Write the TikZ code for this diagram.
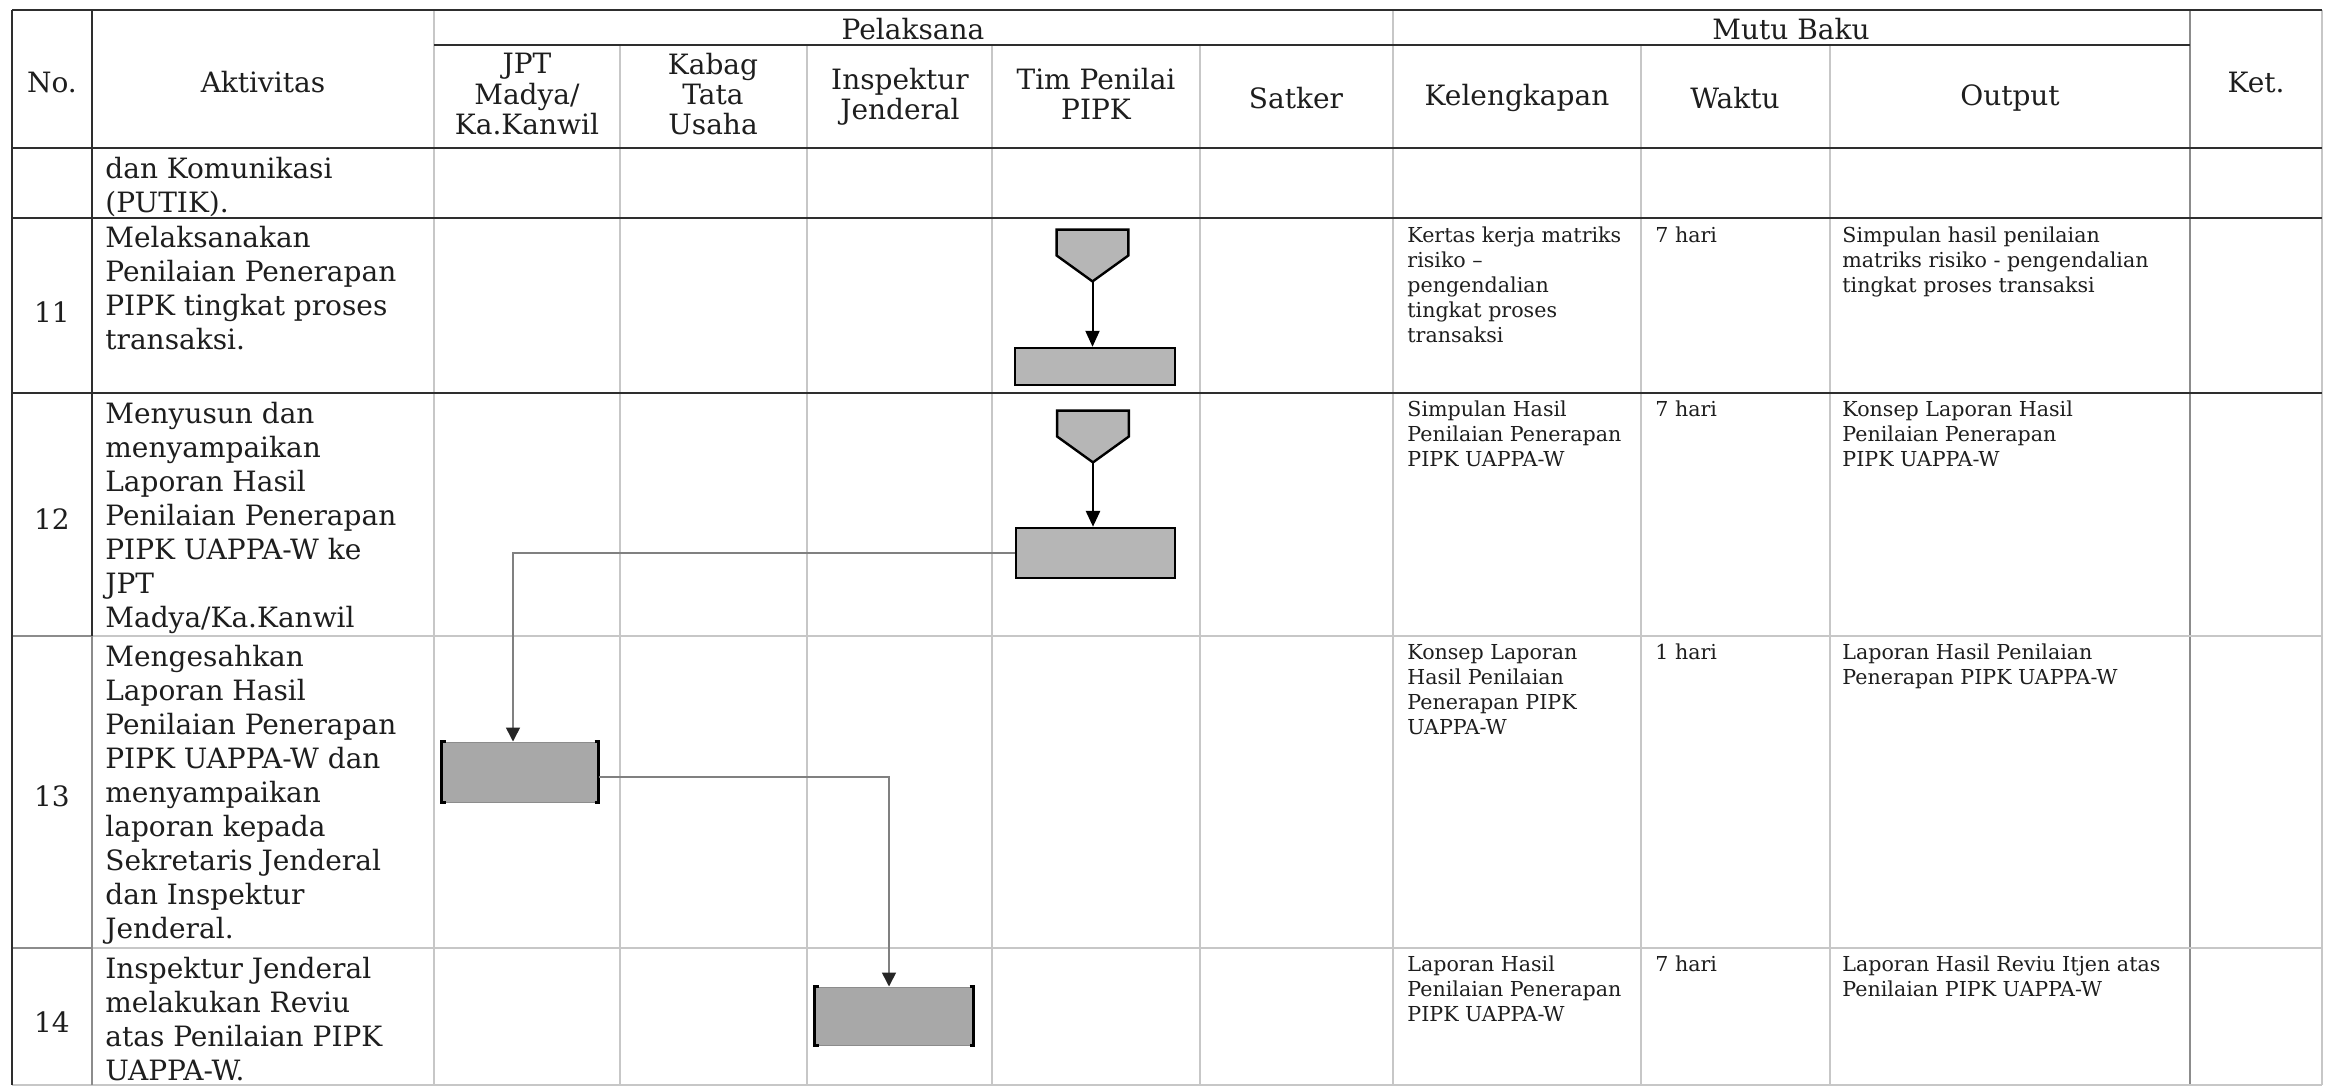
\documentclass[tikz,border=0pt]{standalone}
\usepackage{fontspec}
\setmainfont{DejaVu Serif}
\usetikzlibrary{arrows.meta}
\definecolor{boxgray}{HTML}{B6B6B6}
\definecolor{boxgrayb}{HTML}{A8A8A8}
\definecolor{inkc}{HTML}{1E1E1E}
\newcommand{\mlines}[1]{\begin{tabular}[t]{@{}l@{}}#1\end{tabular}}
\newcommand{\clines}[1]{\begin{tabular}{@{}c@{}}#1\end{tabular}}
\begin{document}
\begin{tikzpicture}[x=0.5pt,y=-0.5pt,
  darkline/.style={draw=black!82,line width=1.3pt},
  midline/.style={draw=black!45,line width=1pt},
  lightline/.style={draw=black!22,line width=1pt},
  body/.style={font=\fontsize{14}{17}\selectfont,text=inkc,inner sep=0pt,anchor=base west},
  small/.style={font=\fontsize{10.3}{12.5}\selectfont,text=inkc,inner sep=0pt,anchor=base west},
  head/.style={font=\fontsize{14}{15}\selectfont,text=inkc,inner sep=0pt,anchor=center},
  num/.style={font=\fontsize{14}{17}\selectfont,text=inkc,inner sep=0pt,anchor=center},
  pentbox/.style={minimum width=35.5pt,minimum height=25.5pt,inner sep=0pt},
  pentshape/.style={fill=boxgray,draw=black,line width=1.2pt,line join=miter},
  boxa/.style={fill=boxgray,draw=black,line width=1.2pt,inner sep=0pt},
  boxb/.style={fill=boxgrayb,draw=black!45,line width=0.5pt,inner sep=0pt},
  bracket/.style={draw=black,line width=1.3pt},
  flow/.style={draw=black,line width=1pt,-{Triangle[length=8pt,width=7pt]}},
  conn/.style={draw=black!50,line width=0.8pt,-{Triangle[length=7pt,width=7pt,color=black!85]}}
]
\useasboundingbox (0,0) rectangle (2326,1087);
\fill[white] (0,0) rectangle (2326,1087);

% ---------- light vertical grid lines ----------
\draw[lightline] (434,10) -- (434,1085);
\foreach \xx in {620,807,992,1200,1641,1830} {\draw[lightline] (\xx,45) -- (\xx,1085);}
\draw[lightline] (1393,10) -- (1393,1085);
\draw[lightline] (2322,10) -- (2322,1085);
\draw[midline] (2190,10) -- (2190,1085);
% ---------- light horizontal lines (lower rows) ----------
\draw[lightline] (12,636) -- (2322,636);
\draw[lightline] (12,948) -- (2322,948);
\draw[lightline] (12,1085) -- (2322,1085);
\draw[midline] (12,636) -- (92,636);
\draw[midline] (12,948) -- (92,948);
% ---------- dark lines ----------
\draw[darkline] (12,10) -- (2322,10);
\draw[darkline] (434,45) -- (2190,45);
\draw[darkline] (12,148) -- (2322,148);
\draw[darkline] (12,218) -- (2322,218);
\draw[darkline] (12,393) -- (2322,393);
\draw[darkline] (12,10) -- (12,1085);
\draw[darkline] (92,10) -- (92,636);
\draw[midline] (92,636) -- (92,1085);

% ---------- header ----------
\node[head] (hNo) at (52,82) {No.};
\node[head] (hAkt) at (263,82) {Aktivitas};
\node[head] (hPel) at (913,29) {Pelaksana};
\node[head] (hMutu) at (1791,29) {Mutu Baku};
\node[head] (hKet) at (2256,82) {Ket.};
\node[head] (hJPT) at (527,98) {\clines{JPT\\Madya/\\Ka.Kanwil}};
\node[head] (hKabag) at (713,98) {\clines{Kabag\\Tata\\Usaha}};
\node[head] (hInsp) at (900,98) {\clines{Inspektur\\Jenderal}};
\node[head] (hTim) at (1096,98) {\clines{Tim Penilai\\PIPK}};
\node[head] (hSat) at (1296,98) {Satker};
\node[head] (hKel) at (1517,98) {Kelengkapan};
\node[head] (hWak) at (1735,98) {Waktu};
\node[head] (hOut) at (2010,98) {Output};

% ---------- row 10 ----------
\node[body] (a10) at (105,178) {\mlines{dan Komunikasi\\(PUTIK).}};

% ---------- row 11 ----------
\node[num] (n11) at (52,312) {11};
\node[body] (a11) at (105,247) {\mlines{Melaksanakan\\Penilaian Penerapan\\PIPK tingkat proses\\transaksi.}};
\node[small] (k11) at (1407,242) {\mlines{Kertas kerja matriks\\risiko --\\pengendalian\\tingkat proses\\transaksi}};
\node[small] (w11) at (1655,242) {7 hari};
\node[small] (o11) at (1842,242) {\mlines{Simpulan hasil penilaian\\matriks risiko - pengendalian\\tingkat proses transaksi}};

% ---------- row 12 ----------
\node[num] (n12) at (52,519) {12};
\node[body] (a12) at (105,423) {\mlines{Menyusun dan\\menyampaikan\\Laporan Hasil\\Penilaian Penerapan\\PIPK UAPPA-W ke\\JPT\\Madya/Ka.Kanwil}};
\node[small] (k12) at (1407,416) {\mlines{Simpulan Hasil\\Penilaian Penerapan\\PIPK UAPPA-W}};
\node[small] (w12) at (1655,416) {7 hari};
\node[small] (o12) at (1842,416) {\mlines{Konsep Laporan Hasil\\Penilaian Penerapan\\PIPK UAPPA-W}};

% ---------- row 13 ----------
\node[num] (n13) at (52,796) {13};
\node[body] (a13) at (105,666) {\mlines{Mengesahkan\\Laporan Hasil\\Penilaian Penerapan\\PIPK UAPPA-W dan\\menyampaikan\\laporan kepada\\Sekretaris Jenderal\\dan Inspektur\\Jenderal.}};
\node[small] (k13) at (1407,659) {\mlines{Konsep Laporan\\Hasil Penilaian\\Penerapan PIPK\\UAPPA-W}};
\node[small] (w13) at (1655,659) {1 hari};
\node[small] (o13) at (1842,659) {\mlines{Laporan Hasil Penilaian\\Penerapan PIPK UAPPA-W}};

% ---------- row 14 ----------
\node[num] (n14) at (52,1022) {14};
\node[body] (a14) at (105,978) {\mlines{Inspektur Jenderal\\melakukan Reviu\\atas Penilaian PIPK\\UAPPA-W.}};
\node[small] (k14) at (1407,971) {\mlines{Laporan Hasil\\Penilaian Penerapan\\PIPK UAPPA-W}};
\node[small] (w14) at (1655,971) {7 hari};
\node[small] (o14) at (1842,971) {\mlines{Laporan Hasil Reviu Itjen atas\\Penilaian PIPK UAPPA-W}};

% ---------- flow shapes ----------
\node[pentbox] (P11) at (1092.5,255.5) {};
\draw[pentshape] (P11.north west) -- (P11.north east) -- (P11.east) -- (P11.south) -- (P11.west) -- cycle;
\node[boxa,minimum width=80pt,minimum height=18.5pt] (R11) at (1095,366.5) {};

\node[pentbox] (P12) at (1093,436.5) {};
\draw[pentshape] (P12.north west) -- (P12.north east) -- (P12.east) -- (P12.south) -- (P12.west) -- cycle;
\node[boxa,minimum width=79.5pt,minimum height=25pt] (R12) at (1095.5,553) {};

\node[boxb,minimum width=78pt,minimum height=30pt] (R13) at (520,772) {};
\draw[bracket] ([xshift=2pt]R13.north west) -- (R13.north west) -- (R13.south west) -- ([xshift=2pt]R13.south west);
\draw[bracket] ([xshift=-2pt]R13.north east) -- (R13.north east) -- (R13.south east) -- ([xshift=-2pt]R13.south east);

\node[boxb,minimum width=79pt,minimum height=29pt] (R14) at (894,1016) {};
\draw[bracket] ([xshift=2pt]R14.north west) -- (R14.north west) -- (R14.south west) -- ([xshift=2pt]R14.south west);
\draw[bracket] ([xshift=-2pt]R14.north east) -- (R14.north east) -- (R14.south east) -- ([xshift=-2pt]R14.south east);

% ---------- connectors ----------
\draw[flow] (P11.south) -- (P11.south |- R11.north);
\draw[flow,line width=1.4pt] (P12.south) -- (P12.south |- R12.north);
\draw[conn] (R12.west) -| ([xshift=-3.5pt]R13.north);
\draw[conn] ([yshift=-2.5pt]R13.east) -| ([xshift=-2.5pt]R14.north);
\end{tikzpicture}
\end{document}
